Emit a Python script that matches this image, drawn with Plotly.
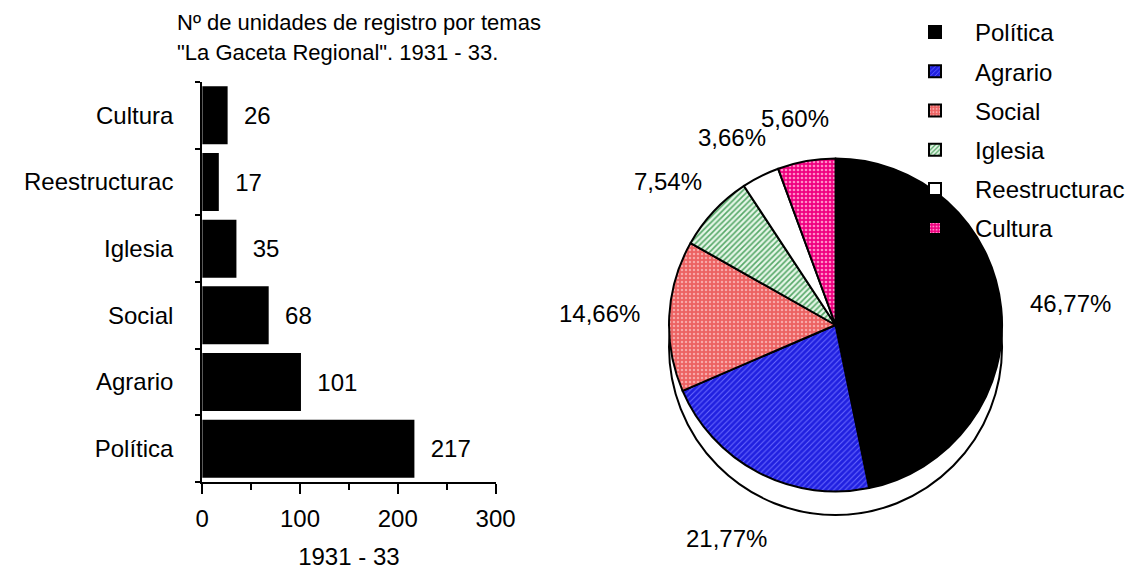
import math
import plotly.graph_objects as go

categories = ["Política", "Agrario", "Social", "Iglesia", "Reestructurac", "Cultura"]
counts = [217, 101, 68, 35, 17, 26]
x_ticks = [0, 100, 200, 300]
title_lines = ["Nº de unidades de registro por temas", "\"La Gaceta Regional\". 1931 - 33."]
x_title = "1931 - 33"

pie_colors = ["#000000", "#2020e0", "#ec6262", "#e6f6e8", "#ffffff", "#f00080"]
pie_fg = ["#000000", "#6a6aff", "#f8a8a8", "#56a868", "#ffffff", "#ff8cc6"]
pie_shapes = ["", "/", ".", "/", "", "."]
pie_solidity = [0.3, 0.25, 0.3, 0.4, 0.3, 0.35]

W, H = 1130, 570
FONT = "Liberation Sans, Arial, sans-serif"


def px(x):
    return x / W


def py(y):
    return 1 - y / H


fig = go.Figure()

fig.add_trace(go.Bar(
    y=categories, x=counts, orientation="h",
    marker=dict(color="black", line=dict(width=0)),
    width=0.87,
    text=counts, texttemplate="\u00a0\u00a0%{x}", textposition="outside",
    textfont=dict(size=24, color="black", family=FONT),
    cliponaxis=False, showlegend=False, hoverinfo="skip",
))

# pie geometry (pixels)
cx, cy, r, depth = 843, 325, 168, 22

fig.add_trace(go.Pie(
    labels=categories, values=counts, sort=False, direction="clockwise", rotation=0,
    marker=dict(colors=pie_colors, line=dict(color="black", width=2),
                pattern=dict(shape=pie_shapes, fgcolor=pie_fg, bgcolor=pie_colors,
                             fillmode="replace", size=4, solidity=pie_solidity)),
    textinfo="none",
    domain=dict(x=[px(cx - r), px(cx + r)], y=[py(cy + r), py(cy - r)]),
    showlegend=False, hoverinfo="skip",
))

# legend entries
for cat, col, fg, shp, sol in zip(categories, pie_colors, pie_fg, pie_shapes, pie_solidity):
    fig.add_trace(go.Bar(
        x=[None], y=[None], orientation="h", name=cat, legendgroup=cat,
        marker=dict(color=col, line=dict(color="black", width=2),
                    pattern=dict(shape=shp, fgcolor=fg, bgcolor=col, fillmode="replace",
                                 size=4, solidity=sol)),
        showlegend=True, hoverinfo="skip",
    ))

# 3D side of the pie
fig.add_shape(type="circle", xref="paper", yref="paper", layer="below",
              x0=px(cx - r), x1=px(cx + r),
              y0=py(cy + r + depth), y1=py(cy - r + depth),
              fillcolor="white", line=dict(color="black", width=2))

# percentage labels around the pie, derived from the data
total = sum(counts)
cum = 0
label_r = 198
txt_h = 24
for c in counts:
    frac = c / total
    mid = (cum + frac / 2) * 2 * math.pi
    cum += frac
    txt = f"{frac * 100:.2f}%".replace(".", ",")
    n_dig = sum(ch.isdigit() for ch in txt)
    txt_w = 13.35 * n_dig + 6.7 + 21.3
    s, co = math.sin(mid), math.cos(mid)
    ry = label_r + (1.4 * depth if co < -0.3 else 0)
    lx = cx + label_r * s + s * txt_w / 2
    ly = cy - ry * co - co * txt_h / 2
    fig.add_annotation(text=txt, xref="paper", yref="paper",
                       x=px(lx), y=py(ly), xanchor="center", yanchor="middle", showarrow=False,
                       font=dict(size=24, color="black", family=FONT))

for i, line in enumerate(title_lines):
    fig.add_annotation(text=line, xref="paper", yref="paper", x=px(177), y=py(22 + 30 * i),
                       xanchor="left", yanchor="middle", showarrow=False,
                       font=dict(size=22, color="black", family=FONT))

fig.update_layout(
    width=W, height=H, autosize=False,
    margin=dict(l=0, r=0, t=0, b=0),
    paper_bgcolor="white", plot_bgcolor="white",
    separators=", ",
    font=dict(family=FONT, size=24, color="black"),
    barmode="overlay",
    xaxis=dict(domain=[px(204), px(500)], range=[0, 300], tickvals=x_ticks,
               showgrid=False, zeroline=False, showline=True, linecolor="black", linewidth=2,
               ticks="outside", ticklen=10, tickwidth=2, tickcolor="black",
               minor=dict(dtick=50, ticks="outside", ticklen=6, tickwidth=2, tickcolor="black", showgrid=False),
               ticklabelstandoff=4,
               tickfont=dict(size=24), automargin=False,
               title=dict(text=x_title, font=dict(size=24), standoff=25)),
    yaxis=dict(domain=[py(482), py(82)], showgrid=False, zeroline=False, showline=True,
               linecolor="black", linewidth=2, ticks="outside", ticklen=5, tickwidth=2,
               tickcolor="black", tickson="boundaries", ticklabelstandoff=22,
               tickfont=dict(size=24), automargin=False),
    legend=dict(x=px(903), y=py(10), xanchor="left", yanchor="top",
                font=dict(size=24, family=FONT), bgcolor="rgba(0,0,0,0)",
                itemwidth=70, tracegroupgap=5, traceorder="grouped"),
)

fig.write_html("out.html", config={"displayModeBar": False},
               post_script="document.body.style.margin='0px';document.body.style.overflow='hidden';")
